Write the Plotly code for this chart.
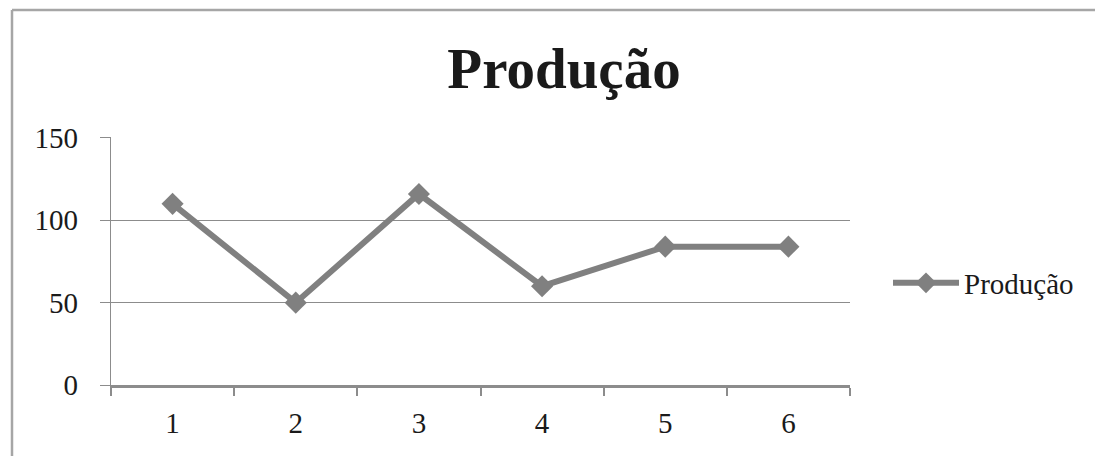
import plotly.graph_objects as go

categories = ["1", "2", "3", "4", "5", "6"]
producao = [110, 50, 116, 60, 84, 84]
series_name = "Produção"
title_text = "Produção"
y_ticks = [0, 50, 100, 150]

GRAY = "#808080"
AXIS = "#8c8c8c"
FONT = "Liberation Serif"

# page body has an 8px margin; work in page pixels and subtract it
OFF = 8
W, H = 1103 - OFF, 456 - OFF
L, R, T, B = 111 - OFF, 850 - OFF, 137 - OFF, 385 - OFF
pw, ph = R - L, B - T

def px(x):
    return (x - OFF - L) / pw

def py(y):
    return (B - (y - OFF)) / ph

fig = go.Figure()
fig.add_trace(go.Scatter(
    x=categories, y=producao, name=series_name, mode="lines+markers",
    line=dict(color=GRAY, width=6),
    marker=dict(symbol="diamond", size=17, color=GRAY),
))

shapes = [
    dict(type="line", xref="paper", yref="paper", x0=px(12), x1=px(12), y0=py(470), y1=py(10),
         line=dict(color="#a6a6a6", width=2.5)),
    dict(type="line", xref="paper", yref="paper", x0=px(12), x1=px(1110), y0=py(10), y1=py(10),
         line=dict(color="#a6a6a6", width=2.5)),
    dict(type="rect", xref="paper", yref="paper", x0=px(40), x1=px(46), y0=py(3.5), y1=py(1.5),
         fillcolor="red", line=dict(width=0)),
    dict(type="rect", xref="paper", yref="paper", x0=px(130), x1=px(136), y0=py(4), y1=py(-2),
         fillcolor="red", line=dict(width=0)),
]

fig.update_layout(
    width=W, height=H,
    margin=dict(l=L, r=W - R, t=T, b=H - B),
    paper_bgcolor="white", plot_bgcolor="white",
    font=dict(family=FONT, size=29, color="#1a1a1a"),
    title=dict(text=title_text, x=(564 - OFF) / W, xanchor="center", y=1 - (68 - OFF) / H,
               yanchor="middle",
               font=dict(family=FONT, size=57, color="#1a1a1a", weight="bold")),
    showlegend=True,
    legend=dict(x=px(888), xanchor="left", y=py(283), yanchor="middle",
                font=dict(family=FONT, size=29, color="#1a1a1a"), itemwidth=66,
                bgcolor="rgba(0,0,0,0)"),
    shapes=shapes,
    xaxis=dict(type="category", range=[-0.5, len(categories) - 0.5], showgrid=False,
               showline=True, linecolor=AXIS, linewidth=2.5,
               ticks="outside", tickson="boundaries", ticklen=8, tickcolor=AXIS, tickwidth=1.5,
               ticklabelstandoff=10, zeroline=False),
    yaxis=dict(range=[0, 150.6], tickvals=y_ticks, showgrid=True, gridcolor=AXIS, gridwidth=1.2,
               showline=True, linecolor=AXIS, linewidth=1.2, ticks="outside", ticklen=10,
               tickcolor=AXIS, tickwidth=1.2, ticklabelstandoff=16, zeroline=False),
)

fig.write_html("out.html")
